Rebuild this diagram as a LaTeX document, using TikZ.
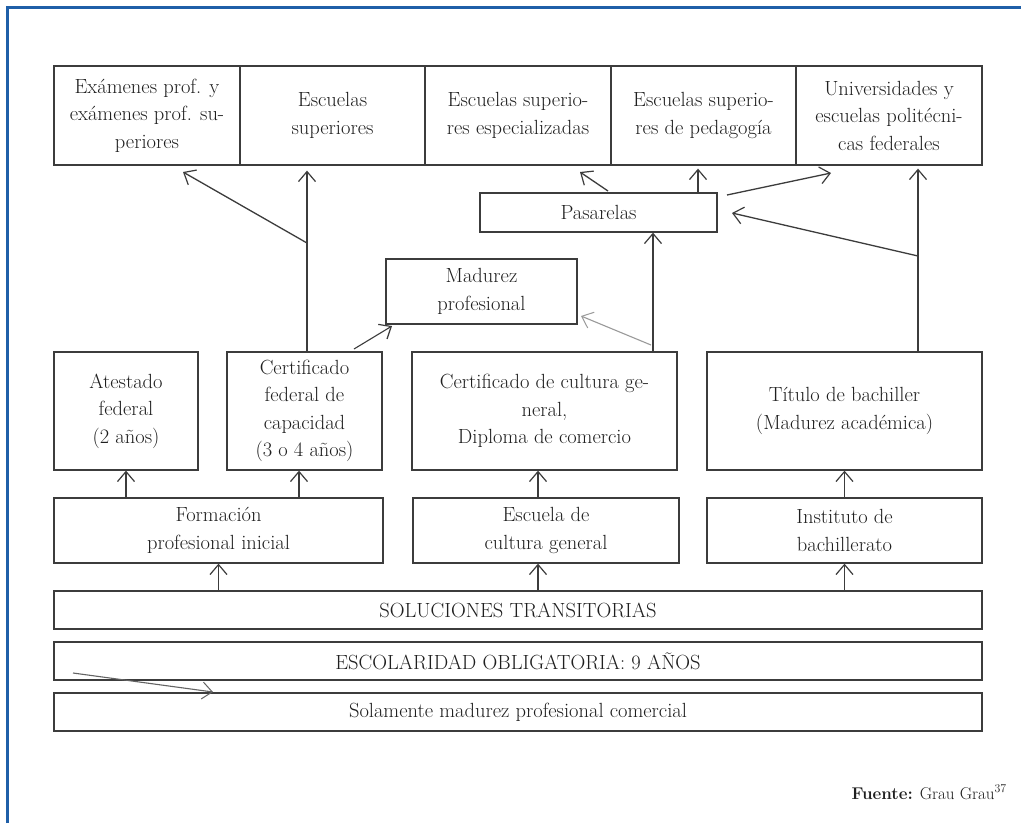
\documentclass[tikz,border=0pt]{standalone}
\usetikzlibrary{arrows.meta}
\definecolor{linec}{HTML}{3C3C3C}
\definecolor{framec}{HTML}{1F5FA8}
\definecolor{greyarr}{HTML}{9A9A9A}
\tikzset{
  box/.style={draw=linec, line width=1.3pt, inner sep=0pt, align=center,
    font=\fontsize{20.5}{27.5}\selectfont, text=black!88},
  arr/.style={draw=linec, line width=1.3pt,
    -{Straight Barb[length=10pt,width=17pt,line width=1.2pt]}},
  ln/.style={draw=linec, line width=1.3pt},
}
\begin{document}
\begin{tikzpicture}[x=1pt,y=-1pt]
\useasboundingbox (0,0) rectangle (1021,823);
\fill[white] (0,0) rectangle (1021,823);
% frame
\draw[framec, line width=3pt] (7,823) -- (7,7) -- (1021,7);

% top row
\node[box, minimum width=186, minimum height=99] (ex)  at (147,115.5) {Exámenes prof. y\\exámenes prof. su-\\periores};
\node[box, minimum width=185, minimum height=99] (es)  at (332.5,115.5) {Escuelas\\superiores};
\node[box, minimum width=186, minimum height=99] (esp) at (518,115.5) {Escuelas superio-\\res especializadas};
\node[box, minimum width=185, minimum height=99] (ped) at (703.5,115.5) {Escuelas superio-\\res de pedagogía};
\node[box, minimum width=186, minimum height=99] (uni) at (889,115.5) {Universidades y\\escuelas politécni-\\cas federales};

% pasarelas, madurez
\node[box, minimum width=237, minimum height=39] (pas) at (598.5,212.5) {Pasarelas};
\node[box, minimum width=191, minimum height=65] (mad) at (481.5,291.5) {Madurez\\profesional};

% middle row
\node[box, minimum width=144, minimum height=118] (ates) at (126,411) {Atestado\\federal\\(2 años)};
\node[box, minimum width=155, minimum height=118] (cfc)  at (304.5,411) {Certificado\\federal de\\capacidad\\(3 o 4 años)};
\node[box, minimum width=265, minimum height=118] (ccg)  at (544.5,411) {Certificado de cultura ge-\\neral,\\Diploma de comercio};
\node[box, minimum width=275, minimum height=118] (tit)  at (844.5,411) {Título de bachiller\\(Madurez académica)};

% lower row
\node[box, minimum width=329, minimum height=65] (form) at (218.5,530.5) {Formación\\profesional inicial};
\node[box, minimum width=266, minimum height=65] (ecg)  at (546,530.5) {Escuela de\\cultura general};
\node[box, minimum width=275, minimum height=65] (inst) at (844.5,530.5) {Instituto de\\bachillerato};

% bars
\node[box, minimum width=928, minimum height=38] (sol)  at (518,610) {SOLUCIONES TRANSITORIAS};
\node[box, minimum width=928, minimum height=38] (esc)  at (518,661) {ESCOLARIDAD OBLIGATORIA: 9 AÑOS};
\node[box, minimum width=928, minimum height=38] (solo) at (518,712) {Solamente madurez profesional comercial};

% source
\node[anchor=east, inner sep=0pt, font=\fontsize{17}{20}\selectfont, text=black!88] (src) at (1007,792) {\textbf{Fuente:} Grau Grau\textsuperscript{37}};

% coordinates
\coordinate (b1) at (307,243);
\coordinate (t1) at (183,172);
\coordinate (c1) at (354,349);
\coordinate (m1) at (392,326);
\coordinate (g1) at (651,345);
\coordinate (g2) at (581,316);
\coordinate (p1) at (608,191);
\coordinate (p2) at (580,172);
\coordinate (p3) at (727,195);
\coordinate (p4) at (831,173);
\coordinate (b2) at (918,256);
\coordinate (p5) at (732,213);
\coordinate (e1) at (73,673);
\coordinate (e2) at (213,692);

% arrows lower
\draw[arr] (form.north -| ates.south) -- (ates.south);
\draw[arr] ([xshift=-5.5pt]form.north -| cfc.south) -- ([xshift=-5.5pt]cfc.south);
\draw[arr] ([xshift=-8pt]ecg.north) -- ([xshift=-8pt]ecg.north |- ccg.south);
\draw[arr] (inst.north) -- (inst.north |- tit.south);
\draw[arr] (sol.north -| form.south) -- (form.south);
\draw[arr] ([xshift=-8pt]sol.north -| ecg.south) -- ([xshift=-8pt]ecg.south);
\draw[arr] (sol.north -| inst.south) -- (inst.south);

% trunk from cfc
\draw[ln] (cfc.north -| b1) -- (b1);
\draw[arr] (b1) -- ([yshift=-5pt]b1 |- es.south);
\draw[arr] (b1) -- (t1);
\draw[arr, line width=1.1pt] (c1) -- (m1);
\draw[draw=greyarr, line width=1.1pt, -{Straight Barb[length=10pt,width=17pt,line width=1pt]}] (g1) -- (g2);

% ccg to pasarelas
\draw[arr] ([xshift=108.5pt]ccg.north) -- ([xshift=108.5pt]ccg.north |- pas.south);

% pasarelas up
\draw[arr] (p1) -- (p2);
\draw[arr] ([xshift=99.5pt]pas.north) -- ([xshift=99.5pt,yshift=-3pt]pas.north |- ped.south);
\draw[arr] (p3) -- (p4);

% titulo up
\draw[ln] ([xshift=73.5pt]tit.north) -- (b2);
\draw[arr] (b2) -- ([yshift=-3pt]b2 |- uni.south);
\draw[arr] (b2) -- (p5);

% bottom grey arrow
\draw[draw=linec!80, line width=1.1pt, -{Straight Barb[length=10pt,width=17pt,line width=1pt]}] (e1) -- (e2);
\end{tikzpicture}
\end{document}
